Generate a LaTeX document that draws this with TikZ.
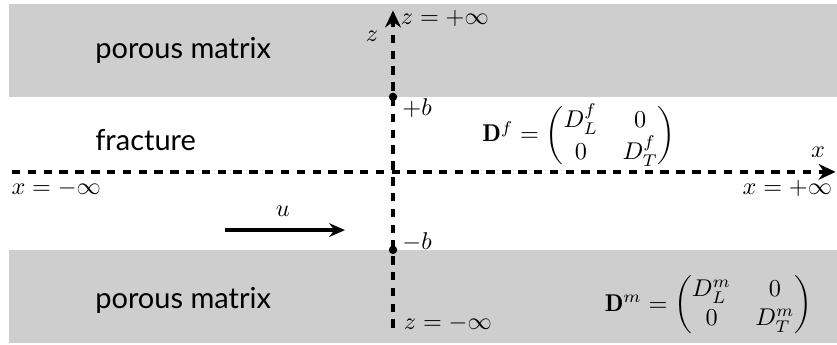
\documentclass[tikz,border=0pt]{standalone}
\usepackage{amsmath}
\usepackage{fontspec}
\newfontfamily\labelfont{Lato}
\usepackage{tikz}
\usetikzlibrary{arrows.meta, positioning}
\definecolor{matrixgray}{RGB}{206, 206, 206}
\tikzset{
    axis/.style = {line width=4pt, dash pattern=on 8pt off 7pt, -{Stealth[length=16pt, width=15pt]}},
    region/.style = {font=\labelfont\fontsize{27.5}{32}\selectfont, anchor=west, inner sep=0pt},
    mathlabel/.style = {scale=2.3, inner sep=0pt},
    bound/.style = {fill=black, circle, inner sep=0pt, minimum size=8pt}
}

\begin{document}
\begin{tikzpicture}
        \useasboundingbox (0, 0) rectangle (27.9, 11.5);

        % Porous matrix bands
        \fill[matrixgray] (0.3, 8.27) rectangle (27.9, 11.37);
        \fill[matrixgray] (0.3, 0.07) rectangle (27.9, 3.17);

        % Region names
        \node[region] (topmatrix) at (3.17, 9.83) {porous matrix};
        \node[region] (fracture) at (3.17, 6.83) {fracture};
        \node[region] (botmatrix) at (3.17, 1.5) {porous matrix};

        % Axes
        \coordinate (xstart) at (0.4, 5.77);
        \coordinate (xend) at (27.85, 5.77);
        \coordinate (zstart) at (13.1, 0.57);
        \coordinate (zend) at (13.1, 11.15);
        \draw[axis] (xstart) -- (xend);
        \draw[axis] (zstart) -- (zend);

        % Fracture walls
        \node[bound] (plusb) at (13.1, 8.27) {};
        \node[bound] (minusb) at (13.1, 3.17) {};

        % Axis labels
        \node[mathlabel] (zlabel) at (12.4, 10.3) {$z$};
        \node[mathlabel, anchor=west] (zplus) at (13.35, 10.9) {$z=+\infty$};
        \node[mathlabel, anchor=west] (bplus) at (13.4, 7.9) {$+b$};
        \node[mathlabel, anchor=west] (bminus) at (13.4, 3.43) {$-b$};
        \node[mathlabel, anchor=west] (zminus) at (13.45, 0.73) {$z=-\infty$};
        \node[mathlabel] (xlabel) at (27.27, 6.43) {$x$};
        \node[mathlabel, anchor=west] (xminus) at (0.37, 5.23) {$x=-\infty$};
        \node[mathlabel, anchor=east] (xplus) at (27.75, 5.23) {$x=+\infty$};

        % Flow velocity
        \coordinate (ustart) at (7.5, 3.83);
        \coordinate (uend) at (11.5, 3.83);
        \draw[line width=3.5pt, -{Stealth[length=15pt, width=13pt]}] (ustart) -- (uend);
        \node[mathlabel] (ulabel) at (9.43, 4.45) {$u$};

        % Dispersion tensors
        \node[mathlabel] (dfrac) at (19.3, 6.97) {$\mathbf{D}^f=\begin{pmatrix} D_L^f & 0\\ 0 & D_T^f\end{pmatrix}$};
        \node[mathlabel] (dmat) at (23.62, 1.33) {$\mathbf{D}^m=\begin{pmatrix} D_L^m & 0\\ 0 & D_T^m\end{pmatrix}$};
    \end{tikzpicture}
\end{document}
